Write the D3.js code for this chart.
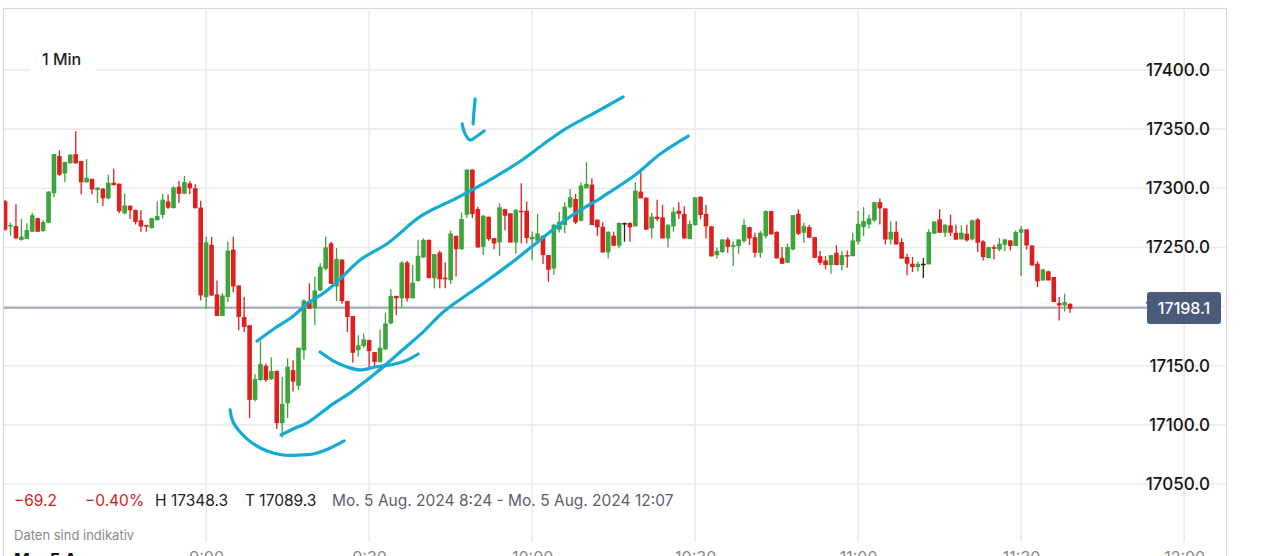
<!DOCTYPE html>
<html><head><meta charset="utf-8">
<script src="https://cdn.jsdelivr.net/npm/d3@7"></script>
<style>html,body{margin:0;padding:0;background:#fff;overflow:hidden}
text{font-family:Inter,'Noto Sans',sans-serif}</style>
</head><body><svg id="c" width="1265" height="556"></svg>
<script>
// ---------- data ----------
const startMinute = 8 * 60 + 23;           // first candle 8:23
const viewWindow = [502.8, 727.7];          // visible minutes-of-day (8:24 .. 12:07)
const opens = [17289,17268,17268,17256.4,17257.2,17263.3,17274.7,17263.9,17270.8,17295.8,
17327.2,17312.5,17321.1,17328.9,17323,17305,17308,17298.6,17299.7,17291.4,
17304.7,17303.9,17278.9,17285.3,17281.7,17273,17268.9,17266.4,17273,17277.5,
17288.9,17283.3,17301.4,17295.5,17304.2,17300,17283.7,17208,17252.3,17210.3,
17192,17208,17248.1,17217.8,17191.2,17184.2,17121.1,17137.9,17149.9,17138.7,
17145.5,17101.4,17118.2,17146.3,17133.1,17163.1,17204.6,17199,17213.6,17231.9,
17253.5,17217,17239.7,17204.6,17192,17163.1,17166.6,17171.7,17161.5,17153.3,
17163.8,17185.8,17209,17207,17237.2,17207,17221.7,17241.5,17256.4,17224,
17245.7,17224.5,17222.3,17259.8,17248.5,17277.6,17315.8,17282.4,17250.5,17275.9,
17257.9,17254.2,17282.4,17278.8,17254.2,17281,17281,17257,17255.6,17259.9,
17243.5,17232.2,17265,17268.9,17283.9,17291,17272.6,17300,17303.1,17273.5,
17267.5,17245.8,17259.9,17251.4,17270.6,17270.6,17267.8,17297.2,17292.1,17266.1,
17276,17275.4,17257.6,17267.8,17281.1,17278.3,17257.1,17268.9,17292.9,17278.3,
17267.8,17243.5,17246,17256.7,17250.5,17251.1,17255.3,17267.2,17258.7,17245.5,
17259.6,17280.7,17263.2,17241.2,17237,17248.3,17278.4,17262.4,17267.2,17258.7,
17242.6,17239,17235.1,17245.5,17235.1,17243.5,17242.6,17254.8,17267.2,17269.4,
17272.8,17288.3,17283,17256.7,17263.2,17254.5,17241.9,17236.2,17233.4,17236.2,
17235.7,17261.6,17273.7,17262.4,17268.6,17262.4,17256.8,17261.6,17256.8,17273.7,
17255.1,17241,17250.3,17248.3,17252.3,17256,17251.2,17262.4,17265.3,17251.7,
17236.2,17222.1,17229.8,17225,17203,17201,17202.4];
const highs = [17290,17271,17286.4,17273.9,17270.5,17279.4,17275,17273,17297.5,17329,
17332.2,17322.5,17328.9,17348.3,17323,17324.7,17308,17301,17300,17311.4,
17316.6,17304,17295.5,17285.5,17282,17281.4,17269,17275,17288.9,17295.3,
17294.7,17301.6,17306.4,17310.4,17306.2,17303.4,17289.4,17259,17259,17222,
17211.4,17255.1,17259,17218,17208,17184.5,17143,17171,17151.9,17157,
17146.3,17140.7,17156.1,17154.7,17165.5,17206,17219.8,17225.4,17236.6,17259,
17254.9,17249.5,17240,17205,17192,17175.8,17177.3,17172,17161.5,17180.7,
17194.9,17214.6,17209.2,17238.6,17238.6,17235.3,17256.4,17257.6,17256.6,17244.5,
17247.1,17237.2,17264.1,17260,17279.6,17316,17316,17284.4,17277.6,17276,
17258,17287.2,17282.6,17279,17282,17304.2,17288.9,17263.5,17278.2,17260,
17243.6,17269.8,17280.2,17288.1,17299.5,17295.2,17305.1,17322,17308.5,17273.6,
17271.2,17263.5,17263.3,17271.2,17271,17271.2,17305.1,17313.6,17292.2,17279.1,
17290.4,17285.9,17269.5,17283.9,17288.1,17284.8,17272.6,17292.5,17293,17285.9,
17268,17250,17257,17258.7,17255.3,17257,17273.9,17267.5,17262.4,17263.8,
17281.5,17281,17263.5,17250.3,17253.1,17277.5,17282.1,17270.8,17268.9,17259,
17246.9,17242.6,17243.6,17252,17246.9,17247.4,17262.4,17280.7,17284.1,17277.9,
17288.5,17291.4,17283,17272.2,17272.2,17257.9,17244.7,17241.9,17238.2,17241,
17265.3,17272,17282.2,17269.5,17277.7,17269.2,17268.6,17269.2,17273.7,17274.8,
17256,17250.5,17252.3,17257.9,17257,17256,17264.4,17268.1,17265.3,17251.7,
17238.2,17232,17230.6,17225,17208.1,17210.9,17202.5];
const lows = [17264,17260,17257,17255.8,17257,17262.8,17263,17263.3,17270.5,17292.5,
17310.5,17305,17321,17321,17295,17305,17295,17287.5,17285,17290.8,
17302.2,17278.9,17277.8,17274.1,17269.4,17263.3,17263.3,17266,17273,17274.4,
17282.8,17283,17287.5,17295,17295,17283,17205.2,17198.2,17209,17192,
17192,17203.8,17212.2,17180,17178.6,17105.6,17119.7,17137,17136.5,17137.9,
17096.4,17089.3,17105.6,17128.1,17129.5,17155.3,17198,17184.2,17213,17230.4,
17219,17204.6,17202.4,17178.6,17152.5,17157.5,17165.2,17146.8,17149.7,17152.5,
17163.2,17185,17192.9,17199.1,17204.2,17207,17221,17241,17224,17215.5,
17215.5,17215.5,17218.9,17225.4,17248,17274.8,17274.8,17250,17243.7,17255.6,
17248.5,17242.9,17264.6,17254,17244.9,17253.3,17253.3,17239.2,17252.8,17235.9,
17220.9,17226.8,17262.7,17261.9,17283,17269.8,17272,17300,17268.9,17259.9,
17245.8,17240.7,17251,17249.2,17254.8,17254.8,17267.8,17291.5,17265,17257.6,
17272.3,17257.6,17250,17263.3,17274,17257.6,17257,17268.4,17274,17257.6,
17242.4,17240.7,17245.5,17245.5,17234.2,17244.6,17253.9,17252,17241.8,17241.2,
17257.6,17261,17240.7,17236,17237,17247.4,17260.4,17253.9,17257.9,17241.2,
17235.1,17231.4,17227.7,17235,17230.5,17232.8,17242.6,17252.5,17259.6,17266,
17271.7,17269.4,17252.5,17252.5,17252.5,17240.5,17226.4,17229.2,17229.8,17224.1,
17235.7,17261.6,17262.4,17258.8,17259.6,17256.5,17256.8,17255.1,17256,17246.1,
17239,17241,17239.9,17246.7,17246.7,17247.5,17251.2,17225.8,17248.3,17234.3,
17216.5,17222.1,17222.1,17203.8,17188.3,17195.9,17194.8];
const closes = [17265,17269,17257.8,17259.1,17264.7,17277.2,17263.3,17271.4,17297.2,17328.9,
17311.4,17322.2,17328.3,17321.1,17305,17308.9,17299.1,17300.5,17291.6,17304.7,
17302.8,17280.5,17285.5,17281.4,17271.6,17267.7,17267.7,17274.7,17276.6,17290.5,
17283.6,17300.8,17295.3,17305.3,17300,17283.2,17209.4,17254.3,17209.4,17192,
17209.4,17247.3,17217,17191.2,17182.8,17121.1,17138.7,17151.4,17137.9,17145.5,
17101.4,17117.7,17149.1,17136.5,17165.1,17205.2,17198.2,17213.6,17233.8,17250.1,
17219.2,17240.3,17204.6,17191.2,17160.9,17167.3,17172.3,17162.4,17153.3,17165.2,
17185.8,17209,17207,17237.2,17207,17220.3,17242.9,17256.4,17224,17244.3,
17223.1,17223.1,17261.8,17248.5,17274,17315.8,17278.2,17250,17276.8,17257,
17253.3,17283.9,17276.8,17254.2,17281.9,17279.6,17257.9,17259,17261.8,17243.5,
17231.1,17269.2,17271.8,17284.5,17292.4,17271.2,17302.3,17303.7,17268.9,17267,
17245.8,17263.3,17251.4,17270.6,17270.6,17267,17298,17291.5,17265,17276,
17274,17257.6,17269.2,17280.2,17278.3,17257.6,17269.8,17292.4,17277.4,17267.8,
17242.4,17247.2,17256.7,17250.5,17252,17256.7,17268.9,17257.6,17245.5,17262.4,
17280.7,17261,17240.7,17236.2,17250.3,17277.3,17261.5,17268,17258.2,17241.2,
17237,17235.1,17243.5,17235.1,17243.5,17242.6,17255.9,17270,17272.2,17274.5,
17288.3,17283,17256.7,17263.2,17252.5,17240.5,17236.2,17233.4,17236.2,17236.2,
17263,17272,17262.4,17269.2,17262.4,17256.5,17262.4,17256,17272.9,17254,
17241.9,17250.3,17248.9,17253.1,17256.8,17251.2,17263,17265.3,17251.7,17234.8,
17221.3,17231.4,17222.1,17203.8,17201,17203.8,17198.1];

const priceTicks = [17050, 17100, 17150, 17200, 17250, 17300, 17350, 17400];
const timeTicks = [540, 570, 600, 630, 660, 690, 720];
const lastPrice = 17198.1;
const intervalLabel = "1 Min";
const dayLabel = "Mo. 5 Aug.";
const changeAbs = -69.2;
const changePct = -0.40;
const dayHigh = 17348.3;
const dayLow = 17089.3;
const rangeLabel = "Mo. 5 Aug. 2024 8:24 - Mo. 5 Aug. 2024 12:07";
const noteLabel = "Daten sind indikativ";

// hand-drawn annotation strokes, in [minute-of-day, price]
const annUpper = [[549.38,17170.9],[552.70,17181.9],[555.83,17191.2],[558.77,17203.0],[561.90,17212.3],[565.03,17225.0],[568.34,17239.4],[573.50,17253.8],[579.57,17276.6],[585.83,17291.0],[588.96,17298.6],[593.74,17311.2],[598.16,17323.9],[602.39,17338.3],[606.07,17350.1],[610.12,17360.3],[613.44,17368.7],[616.75,17377.2]];
const annLower = [[553.80,17091.5],[556.38,17097.4],[558.59,17101.6],[563.37,17117.7],[566.50,17127.0],[569.63,17138.0],[572.57,17148.9],[575.70,17161.6],[579.75,17177.7],[583.43,17194.6],[585.83,17203.0],[591.90,17222.5],[596.87,17239.4],[601.47,17256.3],[606.63,17274.9],[612.88,17292.6],[618.96,17311.2],[623.56,17329.0],[628.71,17344.2]];
const annSmile1 = [[544.41,17112.6],[544.97,17102.4],[546.25,17094.0],[548.46,17084.7],[551.22,17077.9],[554.17,17074.5],[557.30,17074.5],[559.69,17075.4],[562.45,17079.6],[565.40,17086.4]];
const annSmile2 = [[560.98,17161.6],[563.74,17153.2],[565.95,17148.9],[568.34,17146.4],[571.10,17148.9],[573.86,17150.6],[576.62,17154.0],[579.02,17159.9]];
const annArrow = [[589.51,17375.5],[589.32,17366.2],[589.14,17354.4]];
const annHook = [[587.12,17354.4],[587.67,17345.9],[588.59,17340.8],[589.88,17344.2],[591.17,17348.4]];

// ---------- layout ----------
const W = 1265, H = 556;
const plot = {left: 4, right: 1226, top: 8, gridBottom: 542};
const svg = d3.select("#c");

const x = d3.scaleLinear().domain(viewWindow).range([plot.left, plot.right]);
const y = d3.scaleLinear().domain([17050, 17400]).range([484, 70]);

const candles = opens.map((o, i) => ({t: startMinute + i, o, h: highs[i], l: lows[i], c: closes[i]}));
const colorOf = d => d.c > d.o ? "#3ba43a" : d.c < d.o ? "#e01e1e" : "#222222";

// border
svg.append("rect").attr("x", 3.5).attr("y", 8.5).attr("width", plot.right - 3).attr("height", H)
  .attr("fill", "none").attr("stroke", "#d9d9d9").attr("stroke-width", 1.2);

// grid
svg.append("g").selectAll("line").data(priceTicks).join("line")
  .attr("x1", plot.left).attr("x2", plot.right)
  .attr("y1", d => y(d)).attr("y2", d => y(d))
  .attr("stroke", "#ebebeb").attr("stroke-width", 1.6);
svg.append("g").selectAll("line").data(timeTicks).join("line")
  .attr("x1", d => x(d)).attr("x2", d => x(d))
  .attr("y1", plot.top + 2).attr("y2", plot.gridBottom)
  .attr("stroke", "#ebebeb").attr("stroke-width", 1.6);

// interval label
const il = svg.append("g");
il.append("rect").attr("x", 30).attr("y", 46).attr("width", 66).attr("height", 25).attr("fill", "#fff");
il.append("text").attr("x", 42).attr("y", 65).attr("font-size", 16).attr("font-weight", 500)
  .attr("fill", "#222").text(intervalLabel);

// y axis labels
const yAxis = d3.axisRight(y).tickValues(priceTicks).tickSize(0).tickFormat(d3.format(".1f"));
const ya = svg.append("g").attr("transform", `translate(1210,0)`).call(yAxis);
ya.select(".domain").remove();
ya.selectAll("text").attr("x", 0).attr("text-anchor", "end").attr("font-size", 17)
  .attr("font-family", "Inter,'Noto Sans',sans-serif").attr("fill", "#151515").attr("font-weight", 500);

// last price line
svg.append("line").attr("x1", plot.left).attr("x2", 1147)
  .attr("y1", y(lastPrice) - 1).attr("y2", y(lastPrice) - 1)
  .attr("stroke", "#a2aab8").attr("stroke-width", 2);

// candles
const cg = svg.append("g");
svg.append("clipPath").attr("id", "clip").append("rect")
  .attr("x", plot.left).attr("y", plot.top).attr("width", plot.right - plot.left).attr("height", 540);
cg.attr("clip-path", "url(#clip)");
const bw = 4.6;
cg.selectAll("line").data(candles).join("line")
  .attr("x1", d => x(d.t)).attr("x2", d => x(d.t))
  .attr("y1", d => y(d.h)).attr("y2", d => y(d.l))
  .attr("stroke", colorOf).attr("stroke-width", 1.3);
cg.selectAll("rect").data(candles).join("rect")
  .attr("x", d => x(d.t) - bw / 2).attr("width", bw)
  .attr("y", d => y(Math.max(d.o, d.c)))
  .attr("height", d => Math.max(1.5, Math.abs(y(d.o) - y(d.c))))
  .attr("fill", colorOf);

// annotations
const line = d3.line().x(d => x(d[0])).y(d => y(d[1])).curve(d3.curveCatmullRom.alpha(0.5));
svg.append("g").selectAll("path")
  .data([annUpper, annLower, annSmile1, annSmile2, annArrow, annHook]).join("path")
  .attr("d", line).attr("fill", "none").attr("stroke", "#12abd2")
  .attr("stroke-width", 3.2).attr("stroke-linecap", "round").attr("stroke-linejoin", "round");

// last price tag
const tag = svg.append("g");
tag.append("rect").attr("x", 1147).attr("y", 292).attr("width", 74).attr("height", 32).attr("rx", 3)
  .attr("fill", "#4a5a7a");
tag.append("text").attr("x", 1184).attr("y", 308).attr("text-anchor", "middle")
  .attr("dominant-baseline", "central").attr("font-size", 16).attr("fill", "#fff").attr("font-weight", 500)
  .text(d3.format(".1f")(lastPrice));

// info row
const fmt1 = d3.format(".1f");
const info = [
  {x: 14, t: fmt1(changeAbs), c: "#d21a1a"},
  {x: 85, t: d3.format(".2f")(changePct) + "%", c: "#d21a1a"},
  {x: 155, t: "H " + fmt1(dayHigh), c: "#222"},
  {x: 245, t: "T " + fmt1(dayLow), c: "#222"},
  {x: 332, t: rangeLabel, c: "#5d5d6c"}
];
svg.append("g").selectAll("text").data(info).join("text")
  .attr("x", d => d.x).attr("y", 500).attr("dominant-baseline", "central")
  .attr("font-size", 15.5).attr("fill", d => d.c).text(d => d.t);
svg.append("text").attr("x", 14).attr("y", 535).attr("dominant-baseline", "central")
  .attr("font-size", 13).attr("fill", "#8a8a8a").text(noteLabel);

// bottom time axis (cut off by the window edge)
svg.append("text").attr("x", 14).attr("y", 566).attr("font-size", 17).attr("font-weight", 700)
  .attr("fill", "#111").text(dayLabel);
const xAxis = d3.axisBottom(x).tickValues(timeTicks).tickSize(0)
  .tickFormat(m => `${Math.floor(m / 60)}:${String(m % 60).padStart(2, "0")}`);
const xa = svg.append("g").attr("transform", "translate(0,551)").call(xAxis);
xa.select(".domain").remove();
xa.selectAll("text").attr("y", 0).attr("dy", "0.72em").attr("font-size", 16)
  .attr("font-family", "Inter,'Noto Sans',sans-serif").attr("fill", "#888");
</script></body></html>
